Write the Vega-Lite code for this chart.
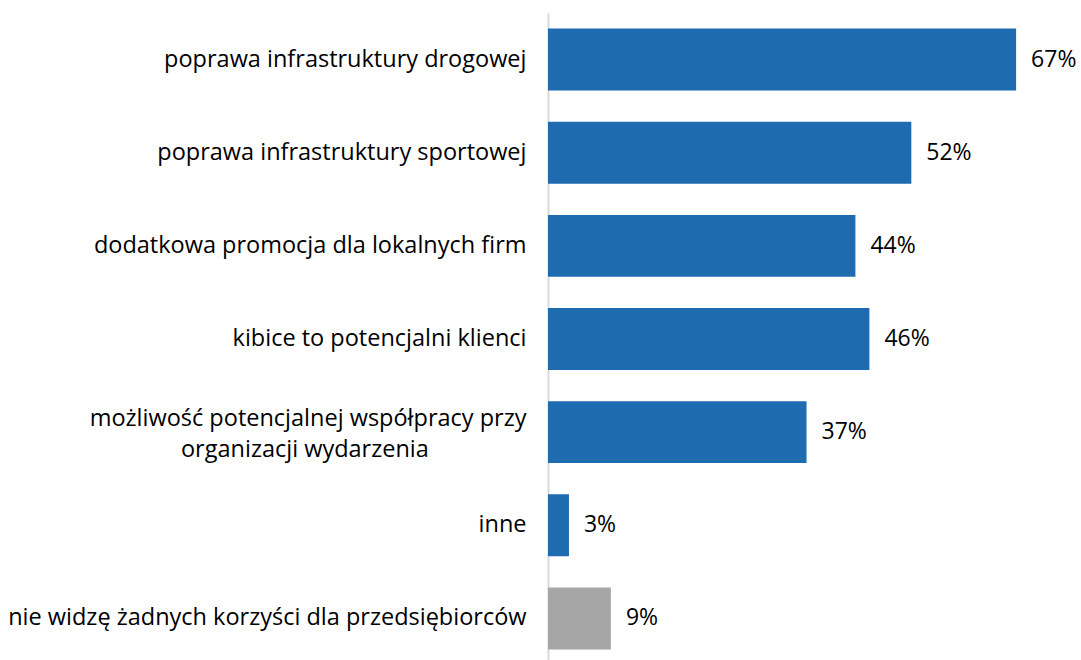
{
  "$schema": "https://vega.github.io/schema/vega-lite/v6.json",
  "width": 531,
  "height": 652,
  "autosize": {"type": "none"},
  "padding": {"left": 548, "top": 13, "right": 2, "bottom": 0},
  "background": "white",
  "config": {"view": {"stroke": null}, "font": "Open Sans"},
  "data": {
    "values": [
      {"cat": "poprawa infrastruktury drogowej", "pct": 0.67, "group": "main"},
      {"cat": "poprawa infrastruktury sportowej", "pct": 0.52, "group": "main"},
      {"cat": "dodatkowa promocja dla lokalnych firm", "pct": 0.44, "group": "main"},
      {"cat": "kibice to potencjalni klienci", "pct": 0.46, "group": "main"},
      {"cat": "możliwość potencjalnej współpracy przy|organizacji wydarzenia\u00a0\u00a0\u00a0\u00a0\u00a0\u00a0\u00a0\u00a0\u00a0\u00a0\u00a0\u00a0\u00a0\u00a0\u00a0\u00a0\u200b", "pct": 0.37, "group": "main"},
      {"cat": "inne", "pct": 0.03, "group": "main"},
      {"cat": "nie widzę żadnych korzyści dla przedsiębiorców", "pct": 0.09, "group": "none"}
    ]
  },
  "encoding": {
    "y": {
      "field": "cat",
      "type": "nominal",
      "sort": null,
      "scale": {"paddingInner": 0.335, "paddingOuter": 0.1675},
      "axis": {
        "title": null,
        "ticks": false,
        "labelPadding": 22,
        "labelFontSize": 23.5,
        "labelFont": "Open Sans",
        "labelColor": "#000000",
        "labelLimit": 0,
        "labelLineHeight": 31,
        "labelOffset": {"condition": {"test": "indexof(datum.value, '|') >= 0", "value": -13}, "value": 0},
        "labelExpr": "split(datum.label, '|')",
        "domainColor": "#D9D9D9",
        "domainWidth": 2
      }
    },
    "x": {
      "field": "pct",
      "type": "quantitative",
      "scale": {"domain": [0, 0.76], "nice": false},
      "axis": null
    }
  },
  "layer": [
    {
      "mark": {"type": "bar"},
      "encoding": {
        "color": {
          "field": "group",
          "type": "nominal",
          "scale": {"domain": ["main", "none"], "range": ["#1F6BB0", "#A6A6A6"]},
          "legend": null
        }
      }
    },
    {
      "mark": {"type": "text", "align": "left", "baseline": "middle", "dx": 15, "fontSize": 23, "font": "Open Sans", "color": "#000000"},
      "encoding": {
        "text": {"field": "pct", "type": "quantitative", "format": ".0%"}
      }
    }
  ]
}
